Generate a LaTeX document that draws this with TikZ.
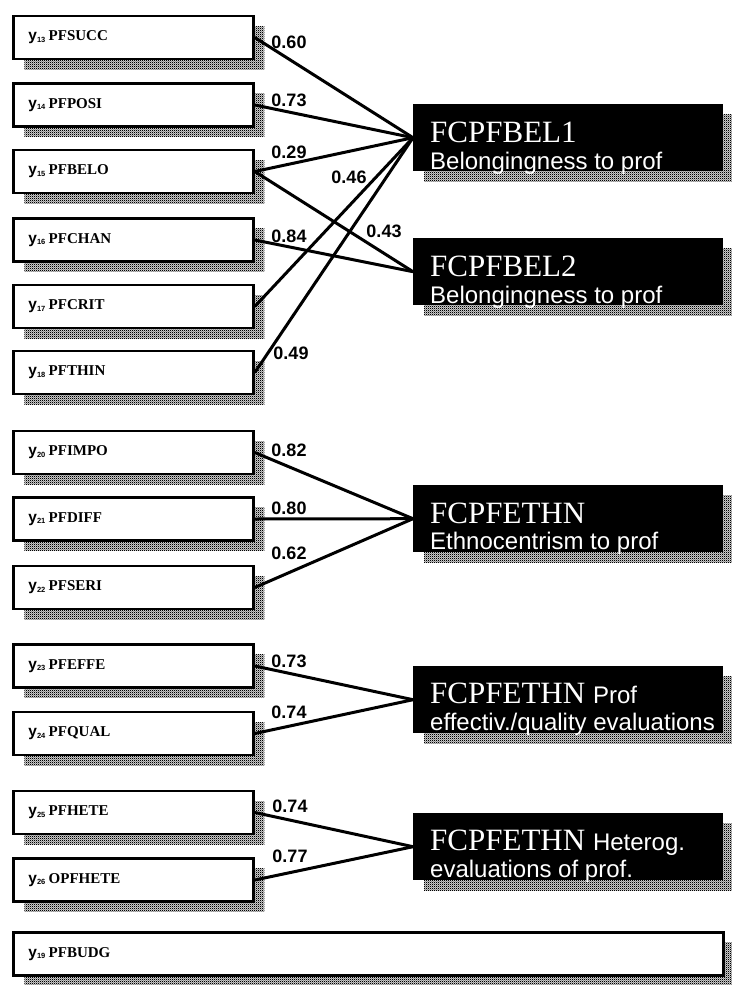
\documentclass[tikz,border=0pt]{standalone}
\usepackage{fontspec}
\setmainfont{Liberation Serif}
\setsansfont{Liberation Sans}
\usetikzlibrary{calc,patterns,shadows}
\pgfdeclarepatternformonly{checker}{\pgfqpoint{0pt}{0pt}}{\pgfqpoint{2pt}{2pt}}{\pgfqpoint{2pt}{2pt}}{%
  \pgfpathrectangle{\pgfpointorigin}{\pgfqpoint{1.4pt}{1.4pt}}%
  \pgfpathrectangle{\pgfqpoint{1pt}{1pt}}{\pgfqpoint{1.4pt}{1.4pt}}%
  \pgfusepath{fill}}
\newcommand{\obslab}[2]{{\sffamily\bfseries\fontsize{15.5}{16}\selectfont y\raisebox{-1.5pt}{\fontsize{7.5}{8}\selectfont #1}}\ {\bfseries\fontsize{15}{17}\selectfont #2}}
\begin{document}
\begin{tikzpicture}[x=1pt,y=-1pt,
  hatch/.style={drop shadow={shadow xshift=11pt,shadow yshift=-10pt,opacity=1,pattern=checker,pattern color=black}},
  obsbox/.style={draw,line width=2.8pt,fill=white,minimum height=43pt,minimum width=240pt,text width=210pt,inner xsep=15pt,align=left,anchor=west,hatch},
  latbox/.style={fill=black,minimum width=310pt,minimum height=67pt,inner sep=0pt,anchor=north west,hatch},
  lattitle/.style={text=white,anchor=base west,inner sep=0pt,font=\fontsize{31}{33}\selectfont},
  latsub/.style={text=white,anchor=base west,inner sep=0pt,font=\sffamily\fontsize{24}{26}\selectfont},
  loadlabel/.style={inner sep=0pt,font=\sffamily\bfseries\fontsize{18}{18}\selectfont},
  link/.style={line width=3pt}]
% Modèle de mesure : indicateurs et facteurs
\useasboundingbox (0,0) rectangle (731,985);
\node[obsbox] (pfsucc) at (12,37.5) {\obslab{13}{PFSUCC}};
\node[obsbox] (pfposi) at (12,105) {\obslab{14}{PFPOSI}};
\node[obsbox] (pfbelo) at (12,171.5) {\obslab{15}{PFBELO}};
\node[obsbox] (pfchan) at (12,240) {\obslab{16}{PFCHAN}};
\node[obsbox] (pfcrit) at (12,306.5) {\obslab{17}{PFCRIT}};
\node[obsbox] (pfthin) at (12,372.5) {\obslab{18}{PFTHIN}};
\node[obsbox] (pfimpo) at (12,452.5) {\obslab{20}{PFIMPO}};
\node[obsbox] (pfdiff) at (12,519) {\obslab{21}{PFDIFF}};
\node[obsbox] (pfseri) at (12,587.5) {\obslab{22}{PFSERI}};
\node[obsbox] (pfeffe) at (12,666) {\obslab{23}{PFEFFE}};
\node[obsbox] (pfqual) at (12,733.5) {\obslab{24}{PFQUAL}};
\node[obsbox] (pfhete) at (12,812.5) {\obslab{25}{PFHETE}};
\node[obsbox] (opfhete) at (12,880) {\obslab{26}{OPFHETE}};
\node[obsbox,minimum width=710pt,text width=680pt] (pfbudg) at (12,954) {\obslab{19}{PFBUDG}};
% Facteurs
\node[latbox] (bel1) at (413,104) {};
\node[lattitle] (bel1t) at ($(bel1.north west)+(17,38)$) {FCPFBEL1};
\node[latsub] (bel1s) at ($(bel1.north west)+(17,65)$) {Belongingness to prof};
\node[latbox] (bel2) at (413,238) {};
\node[lattitle] (bel2t) at ($(bel2.north west)+(17,38)$) {FCPFBEL2};
\node[latsub] (bel2s) at ($(bel2.north west)+(17,65)$) {Belongingness to prof};
\node[latbox] (ethn) at (413,485) {};
\node[lattitle] (ethnt) at ($(ethn.north west)+(17,38)$) {FCPFETHN};
\node[latsub] (ethns) at ($(ethn.north west)+(17,64)$) {Ethnocentrism to prof};
\node[latbox] (prof) at (413,666) {};
\node[lattitle] (proft) at ($(prof.north west)+(17,37)$) {FCPFETHN \sffamily\fontsize{24}{26}\selectfont Prof};
\node[latsub] (profs) at ($(prof.north west)+(17,64)$) {effectiv./quality evaluations};
\node[latbox] (het) at (413,813) {};
\node[lattitle] (hett) at ($(het.north west)+(17,37)$) {FCPFETHN \sffamily\fontsize{24}{26}\selectfont Heterog.};
\node[latsub] (hets) at ($(het.north west)+(17,64)$) {evaluations of prof.};
% Saturations
\draw[link] (pfsucc.east) -- (bel1.west);
\draw[link] (pfposi.east) -- (bel1.west);
\draw[link] (pfbelo.east) -- (bel1.west);
\draw[link] (pfbelo.east) -- (bel2.west);
\draw[link] (pfchan.east) -- (bel2.west);
\draw[link] (pfcrit.east) -- (bel1.west);
\draw[link] (pfthin.east) -- (bel1.west);
\draw[link] (pfimpo.east) -- (ethn.west);
\draw[link] (pfdiff.east) -- (ethn.west);
\draw[link] (pfseri.east) -- (ethn.west);
\draw[link] (pfeffe.east) -- (prof.west);
\draw[link] (pfqual.east) -- (prof.west);
\draw[link] (pfhete.east) -- (het.west);
\draw[link] (opfhete.east) -- (het.west);
\node[loadlabel] (l13) at (289,42) {0.60};
\node[loadlabel] (l14) at (289,100) {0.73};
\node[loadlabel] (l15a) at (289,152) {0.29};
\node[loadlabel] (l17) at (349,177) {0.46};
\node[loadlabel] (l15b) at (384,231) {0.43};
\node[loadlabel] (l16) at (289,236) {0.84};
\node[loadlabel] (l18) at (291,353) {0.49};
\node[loadlabel] (l20) at (289,450) {0.82};
\node[loadlabel] (l21) at (289,508) {0.80};
\node[loadlabel] (l22) at (289,553) {0.62};
\node[loadlabel] (l23) at (289,661) {0.73};
\node[loadlabel] (l24) at (289,712) {0.74};
\node[loadlabel] (l25) at (290,806) {0.74};
\node[loadlabel] (l26) at (290,856) {0.77};
\end{tikzpicture}
\end{document}
